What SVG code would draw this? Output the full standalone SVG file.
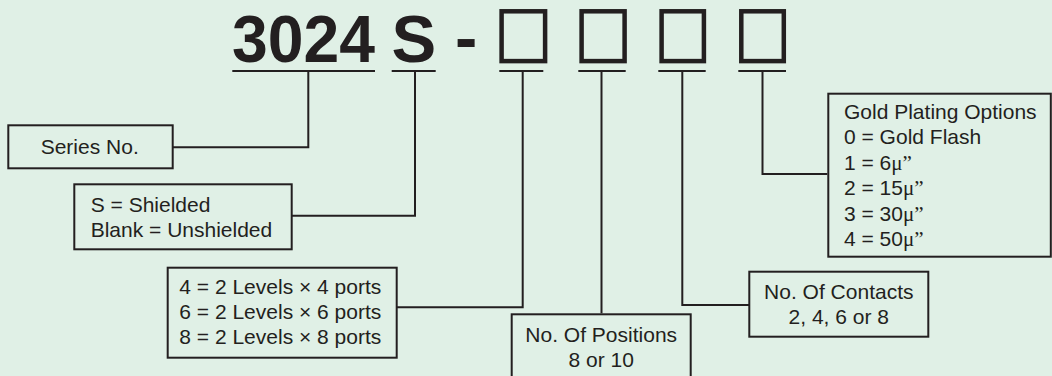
<svg xmlns="http://www.w3.org/2000/svg" width="1052" height="376" viewBox="0 0 1052 376">
<style>
.bg{fill:#e0f0e6}
.box{fill:none;stroke:#231f20;stroke-width:2}
.code{fill:none;stroke:#231f20;stroke-width:4.5}
.ln{fill:none;stroke:#231f20;stroke-width:2}
.t{font-family:"Liberation Sans",Arial,sans-serif;font-size:21px;fill:#231f20}
.c{text-anchor:middle}
.big{font-family:"Liberation Sans",Arial,sans-serif;font-size:67px;font-weight:bold;fill:#231f20}
.mu{font-family:"Liberation Serif","Times New Roman",serif}
</style>
<rect class="bg" x="0" y="0" width="1052" height="376"/>
<g id="header">
<text class="big" x="232" y="62" textLength="143" lengthAdjust="spacingAndGlyphs">3024</text>
<text class="big" x="391.5" y="62">S</text>
<text class="big" x="455" y="60">-</text>
<rect class="code" x="501.6" y="11.3" width="43.5" height="49.8"/>
<rect class="code" x="581.6" y="11.3" width="43" height="49.8"/>
<rect class="code" x="661.6" y="11.3" width="42.3" height="49.8"/>
<rect class="code" x="741.3" y="11.3" width="42.5" height="49.8"/>
</g>
<g id="connectors">
<line class="ln" x1="232.3" y1="71" x2="375" y2="71"/>
<line class="ln" x1="391.7" y1="71" x2="435.7" y2="71"/>
<line class="ln" x1="499.3" y1="71" x2="543.3" y2="71"/>
<line class="ln" x1="578.3" y1="71" x2="625.7" y2="71"/>
<line class="ln" x1="658.3" y1="71" x2="705.7" y2="71"/>
<line class="ln" x1="738.3" y1="71" x2="786" y2="71"/>
<polyline class="ln" points="172.7,147.3 308.3,147.3 308.3,71"/>
<polyline class="ln" points="291.7,215.7 415,215.7 415,71"/>
<polyline class="ln" points="396.7,307.3 522.7,307.3 522.7,71"/>
<polyline class="ln" points="601.5,313.3 601.5,71"/>
<polyline class="ln" points="749.3,305 682.3,305 682.3,71"/>
<polyline class="ln" points="827.3,174 762.5,174 762.5,71"/>
</g>
<g id="series">
<rect class="box" x="8.3" y="125.3" width="164.4" height="43"/>
<text class="t" x="40.7" y="154">Series No.</text>
</g>
<g id="shielded">
<rect class="box" x="74.3" y="184.3" width="217.4" height="65"/>
<text class="t" x="90.7" y="211.7">S = Shielded</text>
<text class="t" x="90.7" y="236.7">Blank = Unshielded</text>
</g>
<g id="ports">
<rect class="box" x="167.7" y="267.7" width="229" height="90"/>
<text class="t" x="179.3" y="294.3">4 = 2 Levels × 4 ports</text>
<text class="t" x="179.3" y="319.3">6 = 2 Levels × 6 ports</text>
<text class="t" x="179.3" y="344.3">8 = 2 Levels × 8 ports</text>
</g>
<g id="positions">
<rect class="box" x="511.7" y="314.3" width="179" height="80"/>
<text class="t c" x="601.2" y="341.7">No. Of Positions</text>
<text class="t c" x="601.2" y="366.7">8 or 10</text>
</g>
<g id="contacts">
<rect class="box" x="749.3" y="271.7" width="179" height="65"/>
<text class="t c" x="838.8" y="299">No. Of Contacts</text>
<text class="t c" x="838.8" y="324">2, 4, 6 or 8</text>
</g>
<g id="gold">
<rect class="box" x="828.3" y="93.7" width="222.5" height="163"/>
<text class="t" x="844" y="119">Gold Plating Options</text>
<text class="t" x="844" y="144">0 = Gold Flash</text>
<text class="t" x="844" y="170">1 = 6<tspan class="mu">μ”</tspan></text>
<text class="t" x="844" y="195.3">2 = 15<tspan class="mu">μ”</tspan></text>
<text class="t" x="844" y="220.5">3 = 30<tspan class="mu">μ”</tspan></text>
<text class="t" x="844" y="245.7">4 = 50<tspan class="mu">μ”</tspan></text>
</g>
</svg>
